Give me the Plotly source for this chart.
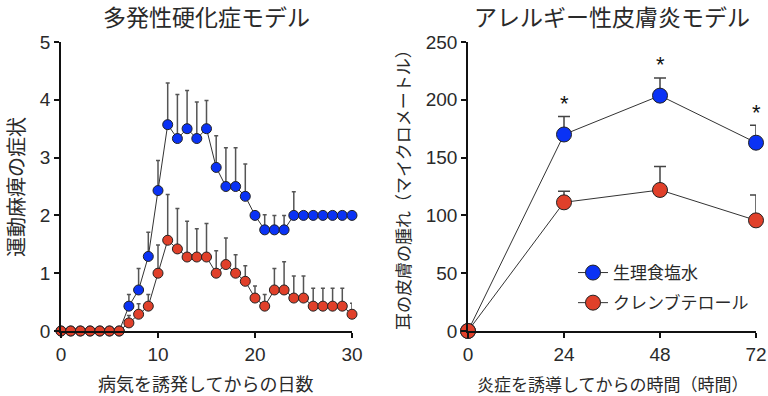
import plotly.graph_objects as go
from plotly.subplots import make_subplots

# --- 多発性硬化症モデル (left) ---
days = list(range(31))
ms_saline = [0, 0, 0, 0, 0, 0, 0, 0.43, 0.71, 1.29, 2.43, 3.57, 3.33, 3.5, 3.33, 3.5,
             2.83, 2.5, 2.5, 2.33, 2.0, 1.75, 1.75, 1.75, 2.0, 2.0, 2.0, 2.0, 2.0, 2.0, 2.0]
ms_saline_err = [0, 0, 0, 0, 0, 0, 0, 0.20, 0.37, 0.42, 0.52, 0.72, 0.76, 0.66, 0.63, 0.49,
                 0.55, 0.67, 0.67, 0.56, 0, 0.26, 0.25, 0.25, 0.41, 0, 0, 0, 0, 0, 0]
ms_clen = [0, 0, 0, 0, 0, 0, 0, 0.14, 0.29, 0.43, 1.0, 1.57, 1.42, 1.28, 1.28, 1.28,
           1.0, 1.15, 1.0, 0.86, 0.57, 0.43, 0.71, 0.71, 0.57, 0.57, 0.43, 0.43, 0.43, 0.43, 0.29]
ms_clen_err = [0, 0, 0, 0, 0, 0, 0, 0.13, 0.18, 0.20, 0.49, 0.79, 0.70, 0.62, 0.49, 0.58,
               0.39, 0.46, 0.32, 0.27, 0.21, 0.20, 0.37, 0.49, 0.38, 0.38, 0.31, 0.31, 0.31, 0.31, 0.19]

# --- アレルギー性皮膚炎モデル (right) ---
hours = [0, 24, 48, 72]
ad_saline = [0, 170, 203.6, 162.9]
ad_saline_err = [0, 15.6, 15.3, 15.0]
ad_clen = [0, 111.3, 122, 95.7]
ad_clen_err = [0, 9.5, 20.2, 21.9]
signif = [24, 48, 72]

BLUE = "#0a32f5"
RED = "#e0402a"
TXT = "#2a2a2a"
JP = "Noto Sans CJK JP"
NUM = "Liberation Sans"

W, H = 768, 396


def sx(px):
    return px / W


def sy(py):
    return 1 - py / H


fig = make_subplots(rows=1, cols=2)

# left panel: saline first so red sits on top
fig.add_trace(go.Scatter(
    x=days, y=ms_saline, mode="lines+markers", name="生理食塩水", showlegend=False,
    line=dict(color="#333", width=1),
    marker=dict(color=BLUE, size=10, line=dict(color="#222", width=1)),
    error_y=dict(type="data", array=ms_saline_err, arrayminus=[0] * 31, symmetric=False,
                 color="#555", thickness=1.5, width=2),
    cliponaxis=False,
), row=1, col=1)
fig.add_trace(go.Scatter(
    x=days, y=ms_clen, mode="lines+markers", name="クレンブテロール", showlegend=False,
    line=dict(color="#333", width=1),
    marker=dict(color=RED, size=10, line=dict(color="#222", width=1)),
    error_y=dict(type="data", array=ms_clen_err, arrayminus=[0] * 31, symmetric=False,
                 color="#555", thickness=1.5, width=2),
    cliponaxis=False,
), row=1, col=1)

# right panel
fig.add_trace(go.Scatter(
    x=hours, y=ad_saline, mode="lines+markers", name="生理食塩水", legendgroup="a",
    line=dict(color="#333", width=1),
    marker=dict(color=BLUE, size=15, line=dict(color="#222", width=1)),
    error_y=dict(type="data", array=ad_saline_err, arrayminus=[0] * 4, symmetric=False,
                 color="#444", thickness=1.5, width=6),
    cliponaxis=False,
), row=1, col=2)
fig.add_trace(go.Scatter(
    x=hours, y=ad_clen, mode="lines+markers", name="クレンブテロール", legendgroup="b",
    line=dict(color="#333", width=1),
    marker=dict(color=RED, size=15, line=dict(color="#222", width=1)),
    error_y=dict(type="data", array=ad_clen_err, arrayminus=[0] * 4, symmetric=False,
                 color="#444", thickness=1.5, width=6),
    cliponaxis=False,
), row=1, col=2)

# significance stars above the saline error bars
for h in signif:
    i = hours.index(h)
    fig.add_annotation(x=h, y=ad_saline[i] + ad_saline_err[i], xref="x2", yref="y2",
                       text="*", showarrow=False, yshift=13,
                       font=dict(family=NUM, size=22, color="#111"))

axis_common = dict(showline=True, linecolor="#111", linewidth=1.5, ticks="outside",
                   ticklen=5, tickwidth=1.5, tickcolor="#111", showgrid=False,
                   zeroline=False, automargin=False,
                   tickfont=dict(family=NUM, size=19, color=TXT))

ydom = [sy(331), sy(42)]
fig.update_xaxes(domain=[sx(61), sx(352)], range=[0, 30], tickvals=[0, 10, 20, 30],
                 **axis_common, row=1, col=1)
fig.update_yaxes(domain=ydom, range=[0, 5], tickvals=[0, 1, 2, 3, 4, 5],
                 **axis_common, row=1, col=1)
fig.update_xaxes(domain=[sx(468), sx(756)], range=[0, 72], tickvals=[0, 24, 48, 72],
                 **axis_common, row=1, col=2)
fig.update_yaxes(domain=ydom, range=[0, 250], tickvals=[0, 50, 100, 150, 200, 250],
                 **axis_common, row=1, col=2)

texts = [
    ("多発性硬化症モデル", 206, 16, 23, 0),
    ("アレルギー性皮膚炎モデル", 612, 16, 23, 0),
    ("病気を誘発してからの日数", 205, 383, 18, 0),
    ("炎症を誘導してからの時間（時間）", 613, 383, 17, 0),
    ("運動麻痺の症状", 15, 187, 20, -90),
    ("耳の皮膚の腫れ（マイクロメートル）", 402, 186, 17, -90),
]
for t, px_, py_, sz, ang in texts:
    fig.add_annotation(x=sx(px_), y=sy(py_), xref="paper", yref="paper",
                       text=t, showarrow=False, textangle=ang,
                       xanchor="center", yanchor="middle",
                       font=dict(family=JP, size=sz, color=TXT))

fig.update_layout(
    width=W, height=H,
    margin=dict(l=0, r=0, t=0, b=0),
    plot_bgcolor="white", paper_bgcolor="white",
    legend=dict(x=sx(573), y=sy(255), xanchor="left", yanchor="top",
                font=dict(family=JP, size=17, color=TXT), bgcolor="rgba(0,0,0,0)",
                tracegroupgap=5, itemwidth=30),
)

# drop the default body margin so the figure sits at the window's corner
fig.write_html("out.html", config={"displayModeBar": False},
               post_script="document.body.style.margin = '0';")
